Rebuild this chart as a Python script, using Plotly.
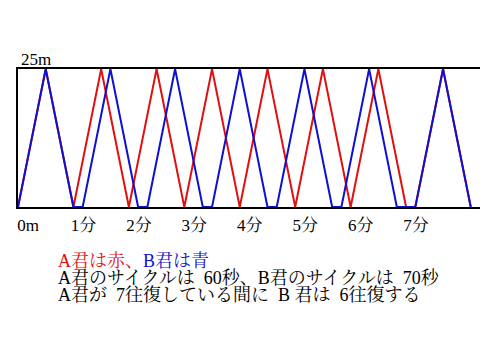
import plotly.graph_objects as go

# A君 (red): 60-second cycle, B君 (blue): 70-second cycle (swim 60 s + rest 10 s)
a_time = [0, 30, 60, 90, 120, 150, 180, 210, 240, 270, 300, 330, 360, 390, 420, 430, 460, 490]
a_dist = [0, 25, 0, 25, 0, 25, 0, 25, 0, 25, 0, 25, 0, 25, 0, 0, 25, 0]
b_time = [0, 30, 60, 70, 100, 130, 140, 170, 200, 210, 240, 270, 280, 310, 340, 350, 380, 410, 430, 460, 490]
b_dist = [0, 25, 0, 0, 25, 0, 0, 25, 0, 0, 25, 0, 0, 25, 0, 0, 25, 0, 0, 25, 0]

tick_vals = [0, 60, 120, 180, 240, 300, 360, 420]
tick_text = ["0m", "1分", "2分", "3分", "4分", "5分", "6分", "7分"]
top_label = "25m"

line1_red = "A君は赤、"
line1_blue = "B君は青"
line2 = "A君のサイクルは  60秒、B君のサイクルは  70秒"
line3 = "A君が  7往復している間に  B 君は  6往復する"

RED = "#e01010"
BLUE = "#1010d0"
FONT = "Liberation Serif, Times New Roman, Noto Serif CJK JP, Noto Sans CJK JP, serif"

fig = go.Figure()
fig.add_trace(go.Scatter(x=a_time, y=a_dist, mode="lines",
                         line=dict(color=RED, width=2), cliponaxis=False, showlegend=False))
fig.add_trace(go.Scatter(x=b_time, y=b_dist, mode="lines",
                         line=dict(color=BLUE, width=2), cliponaxis=False, showlegend=False))

fig.update_layout(
    width=500, height=353,
    margin=dict(l=18, r=20, t=69, b=146),
    paper_bgcolor="white", plot_bgcolor="white",
    font=dict(family=FONT, size=17, color="black"),
    xaxis=dict(range=[0, 500], showgrid=False, zeroline=False, showline=True,
               linecolor="black", linewidth=2, mirror=True,
               tickvals=tick_vals, ticktext=tick_text, ticks="",
               ticklabelshift=10, ticklabelstandoff=2,
               tickfont=dict(family=FONT, size=17, color="black")),
    yaxis=dict(range=[0, 25], showgrid=False, zeroline=False, showline=True,
               linecolor="black", linewidth=2, showticklabels=False, ticks=""),
)

fig.add_annotation(text=top_label, xref="paper", yref="paper", x=0, y=1,
                   xanchor="left", yanchor="bottom", showarrow=False, xshift=1, yshift=-2,
                   font=dict(family=FONT, size=17, color="black"))

fig.add_annotation(text=f"<span style='color:{RED}'>{line1_red}</span><span style='color:{BLUE}'>{line1_blue}</span>",
                   xref="paper", yref="paper", x=0, y=0, xanchor="left", yanchor="middle",
                   xshift=38, yshift=-54, showarrow=False, font=dict(family=FONT, size=18))
fig.add_annotation(text=line2, xref="paper", yref="paper", x=0, y=0, xanchor="left", yanchor="middle",
                   xshift=38, yshift=-71, showarrow=False, font=dict(family=FONT, size=18, color="black"))
fig.add_annotation(text=line3, xref="paper", yref="paper", x=0, y=0, xanchor="left", yanchor="middle",
                   xshift=38, yshift=-88, showarrow=False, font=dict(family=FONT, size=18, color="black"))

fig.write_html("out.html")
